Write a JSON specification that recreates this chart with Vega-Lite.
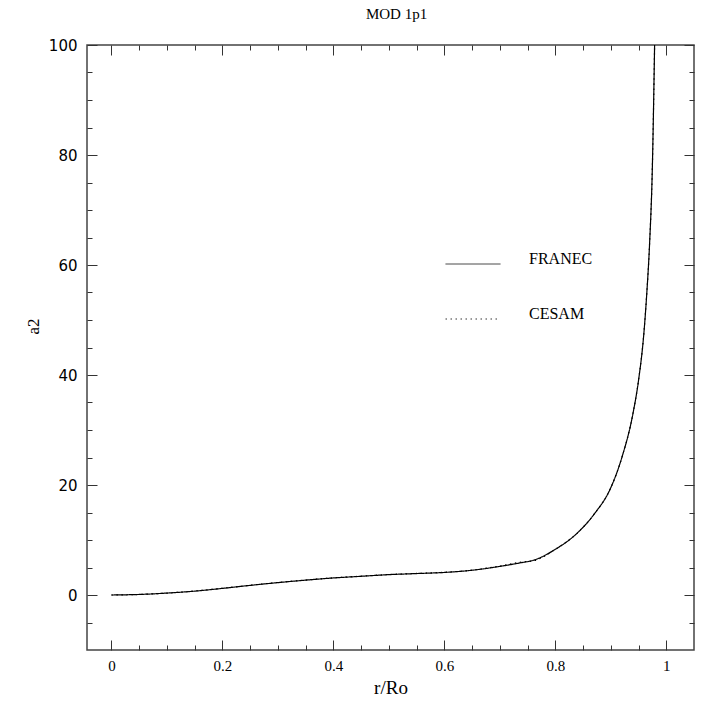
{
  "$schema": "https://vega.github.io/schema/vega-lite/v6.json",
  "autosize": "none",
  "width": 607,
  "height": 605,
  "padding": {"left": 87, "top": 45, "right": 25, "bottom": 75},
  "background": "white",
  "title": {"text": "MOD 1p1", "font": "Liberation Serif", "fontSize": 15, "fontWeight": "normal", "color": "#000", "anchor": "middle", "offset": 16, "dx": 6},
  "config": {
    "view": {"stroke": "#444", "strokeWidth": 1.5},
    "axis": {"grid": false, "domain": false, "tickColor": "#333", "tickWidth": 1, "labelColor": "#000", "titleColor": "#000", "titleFontWeight": "normal"}
  },
  "data": {"values": [
    {"model": "FRANEC", "r": 0, "a2": 0},
    {"model": "FRANEC", "r": 0.05, "a2": 0.1},
    {"model": "FRANEC", "r": 0.1, "a2": 0.35},
    {"model": "FRANEC", "r": 0.15, "a2": 0.7},
    {"model": "FRANEC", "r": 0.2, "a2": 1.2},
    {"model": "FRANEC", "r": 0.25, "a2": 1.75},
    {"model": "FRANEC", "r": 0.3, "a2": 2.25},
    {"model": "FRANEC", "r": 0.35, "a2": 2.7},
    {"model": "FRANEC", "r": 0.4, "a2": 3.1},
    {"model": "FRANEC", "r": 0.45, "a2": 3.4},
    {"model": "FRANEC", "r": 0.5, "a2": 3.7},
    {"model": "FRANEC", "r": 0.55, "a2": 3.9},
    {"model": "FRANEC", "r": 0.6, "a2": 4.1},
    {"model": "FRANEC", "r": 0.65, "a2": 4.5},
    {"model": "FRANEC", "r": 0.7, "a2": 5.2},
    {"model": "FRANEC", "r": 0.74, "a2": 5.9},
    {"model": "FRANEC", "r": 0.76, "a2": 6.3},
    {"model": "FRANEC", "r": 0.8, "a2": 8.3},
    {"model": "FRANEC", "r": 0.84, "a2": 11.3},
    {"model": "FRANEC", "r": 0.87, "a2": 14.7},
    {"model": "FRANEC", "r": 0.9, "a2": 19.5},
    {"model": "FRANEC", "r": 0.92, "a2": 25},
    {"model": "FRANEC", "r": 0.94, "a2": 33},
    {"model": "FRANEC", "r": 0.95, "a2": 39},
    {"model": "FRANEC", "r": 0.96, "a2": 48},
    {"model": "FRANEC", "r": 0.965, "a2": 55},
    {"model": "FRANEC", "r": 0.97, "a2": 64},
    {"model": "FRANEC", "r": 0.975, "a2": 78},
    {"model": "FRANEC", "r": 0.979, "a2": 100},
    {"model": "CESAM", "r": 0, "a2": 0},
    {"model": "CESAM", "r": 0.05, "a2": 0.1},
    {"model": "CESAM", "r": 0.1, "a2": 0.35},
    {"model": "CESAM", "r": 0.15, "a2": 0.72},
    {"model": "CESAM", "r": 0.2, "a2": 1.22},
    {"model": "CESAM", "r": 0.25, "a2": 1.77},
    {"model": "CESAM", "r": 0.3, "a2": 2.28},
    {"model": "CESAM", "r": 0.35, "a2": 2.72},
    {"model": "CESAM", "r": 0.4, "a2": 3.12},
    {"model": "CESAM", "r": 0.45, "a2": 3.42},
    {"model": "CESAM", "r": 0.5, "a2": 3.72},
    {"model": "CESAM", "r": 0.55, "a2": 3.92},
    {"model": "CESAM", "r": 0.6, "a2": 4.12},
    {"model": "CESAM", "r": 0.65, "a2": 4.52},
    {"model": "CESAM", "r": 0.7, "a2": 5.25},
    {"model": "CESAM", "r": 0.74, "a2": 6.0},
    {"model": "CESAM", "r": 0.76, "a2": 6.2},
    {"model": "CESAM", "r": 0.8, "a2": 8.3},
    {"model": "CESAM", "r": 0.84, "a2": 11.3},
    {"model": "CESAM", "r": 0.87, "a2": 14.7},
    {"model": "CESAM", "r": 0.9, "a2": 19.5},
    {"model": "CESAM", "r": 0.92, "a2": 25},
    {"model": "CESAM", "r": 0.94, "a2": 33},
    {"model": "CESAM", "r": 0.95, "a2": 39},
    {"model": "CESAM", "r": 0.96, "a2": 48},
    {"model": "CESAM", "r": 0.965, "a2": 55},
    {"model": "CESAM", "r": 0.97, "a2": 64},
    {"model": "CESAM", "r": 0.975, "a2": 78},
    {"model": "CESAM", "r": 0.979, "a2": 100}
  ]},
  "resolve": {"axis": {"x": "independent", "y": "independent"}},
  "layer": [
    {
      "mark": {"type": "line", "color": "#000", "strokeWidth": 1.2, "clip": true, "interpolate": "monotone"},
      "encoding": {
        "x": {"field": "r", "type": "quantitative", "scale": {"domain": [-0.044, 1.05], "nice": false, "zero": false},
          "axis": {"orient": "bottom", "values": [0, 0.2, 0.4, 0.6, 0.8, 1], "format": "~g", "tickSize": -10, "labelPadding": 18,
            "labelFont": "Liberation Serif", "labelFontSize": 15, "title": "r/Ro", "titleFont": "Liberation Serif", "titleFontSize": 19, "titlePadding": 5}},
        "y": {"field": "a2", "type": "quantitative", "scale": {"domain": [-10, 100], "nice": false, "zero": false},
          "axis": {"orient": "left", "values": [0, 20, 40, 60, 80, 100], "tickSize": -10, "labelPadding": 20,
            "labelFont": "DejaVu Sans", "labelFontSize": 15, "title": "a2", "titleFont": "Liberation Serif", "titleFontSize": 17, "titlePadding": 6, "titleY": 281}},
        "strokeDash": {"field": "model", "type": "nominal",
          "scale": {"domain": ["FRANEC", "CESAM"], "range": [[1, 0], [1.5, 3.5]]},
          "legend": {"orient": "none", "legendX": 358, "legendY": 191, "title": null, "symbolType": "stroke", "symbolSize": 3025,
            "symbolStrokeColor": "#333", "symbolStrokeWidth": 1, "labelFont": "Liberation Serif", "labelFontSize": 16, "labelColor": "#000",
            "labelOffset": 28, "labelBaseline": "alphabetic", "rowPadding": 24}}
      }
    },
    {
      "mark": {"type": "point", "opacity": 0},
      "encoding": {
        "x": {"field": "r", "type": "quantitative", "scale": {"domain": [-0.044, 1.05], "nice": false, "zero": false},
          "axis": {"orient": "bottom", "values": [0.05, 0.1, 0.15, 0.25, 0.3, 0.35, 0.45, 0.5, 0.55, 0.65, 0.7, 0.75, 0.85, 0.9, 0.95], "tickSize": -5, "labels": false, "title": null}},
        "y": {"field": "a2", "type": "quantitative", "scale": {"domain": [-10, 100], "nice": false, "zero": false},
          "axis": {"orient": "left", "values": [-5, 5, 10, 15, 25, 30, 35, 45, 50, 55, 65, 70, 75, 85, 90, 95], "tickSize": -5, "labels": false, "title": null}}
      }
    },
    {
      "mark": {"type": "point", "opacity": 0},
      "encoding": {
        "x": {"field": "r", "type": "quantitative", "scale": {"domain": [-0.044, 1.05], "nice": false, "zero": false},
          "axis": {"orient": "top", "values": [0, 0.2, 0.4, 0.6, 0.8, 1], "tickSize": -10, "labels": false, "title": null}},
        "y": {"field": "a2", "type": "quantitative", "scale": {"domain": [-10, 100], "nice": false, "zero": false},
          "axis": {"orient": "right", "values": [0, 20, 40, 60, 80, 100], "tickSize": -10, "labels": false, "title": null}}
      }
    },
    {
      "mark": {"type": "point", "opacity": 0},
      "encoding": {
        "x": {"field": "r", "type": "quantitative", "scale": {"domain": [-0.044, 1.05], "nice": false, "zero": false},
          "axis": {"orient": "top", "values": [0.05, 0.1, 0.15, 0.25, 0.3, 0.35, 0.45, 0.5, 0.55, 0.65, 0.7, 0.75, 0.85, 0.9, 0.95], "tickSize": -5, "labels": false, "title": null}},
        "y": {"field": "a2", "type": "quantitative", "scale": {"domain": [-10, 100], "nice": false, "zero": false},
          "axis": {"orient": "right", "values": [-5, 5, 10, 15, 25, 30, 35, 45, 50, 55, 65, 70, 75, 85, 90, 95], "tickSize": -5, "labels": false, "title": null}}
      }
    }
  ]
}
